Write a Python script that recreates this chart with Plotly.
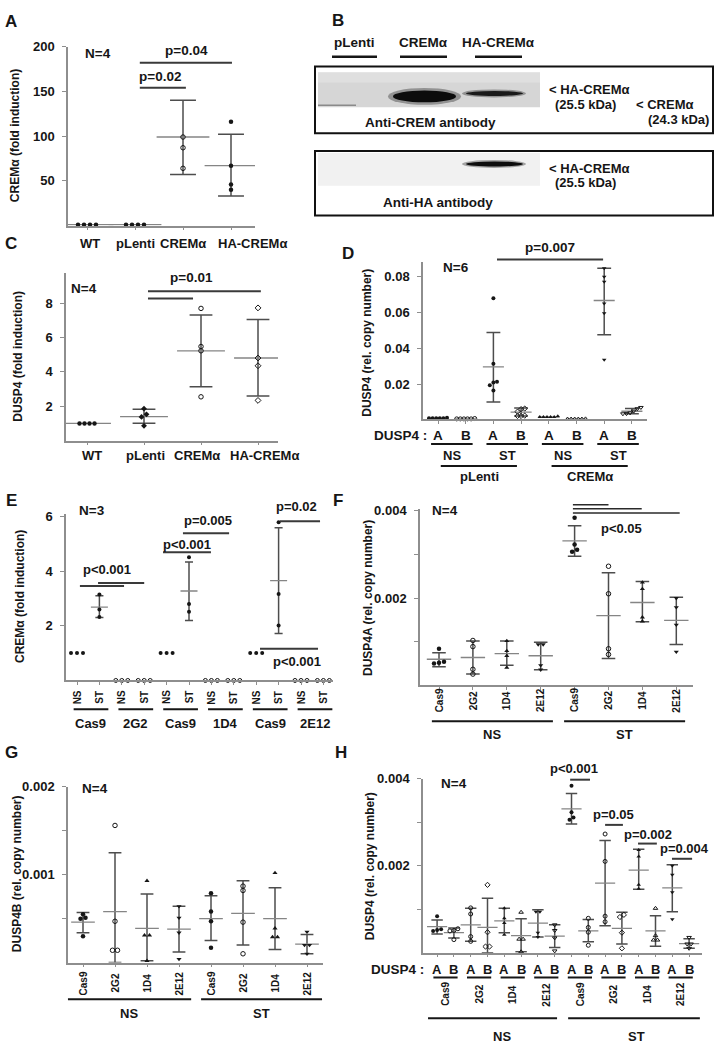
import plotly.graph_objects as go

W, H = 716, 1050
FONT = "Liberation Sans, Arial, Helvetica, sans-serif"
INK = "#161616"
AXC = "#8e8e8e"
ERRC = "#4d4d4d"
MEANC = "#858585"

# ======================= DATA =======================
# Panel A : CREMa fold induction
A_cats = ["WT", "pLenti", "CREMα", "HA-CREMα"]
A_pts = [[1, 1, 1, 1], [1, 1, 1, 1], [99, 87, 64], [116, 67, 46, 40]]
A_mean = [1, 1, 99, 67]
A_lo = [1, 1, 57, 33]
A_hi = [1, 1, 140, 102]
A_yticks = [50, 100, 150, 200]

# Panel C : DUSP4 fold induction
C_cats = ["WT", "pLenti", "CREMα", "HA-CREMα"]
C_pts = [[1, 1, 1, 1], [1.86, 1.53, 1.38, 0.86], [7.70, 5.48, 5.23, 2.55], [7.73, 4.81, 4.36, 2.34]]
C_mean = [1, 1.40, 5.23, 4.81]
C_lo = [1, 1.01, 3.13, 2.59]
C_hi = [1, 1.82, 7.31, 7.06]
C_yticks = [2, 4, 6, 8]

# Panel D : DUSP4 A/B copy number, pLenti vs CREMa
D_gene = ["A", "B", "A", "B", "A", "B", "A", "B"]
D_stim = ["NS", "ST", "NS", "ST"]
D_cells = ["pLenti", "CREMα"]
D_pts = [
    [0.0015, 0.0015, 0.0015, 0.0015, 0.0015, 0.0018],
    [0.0012, 0.0012, 0.0012, 0.0012, 0.0012, 0.0014],
    [0.0678, 0.0316, 0.0217, 0.0198, 0.0213, 0.0169],
    [0.0069, 0.0066, 0.0052, 0.0028, 0.0028, 0.0030],
    [0.0023, 0.0023, 0.0023, 0.0023, 0.0023, 0.0026],
    [0.0011, 0.0011, 0.0011, 0.0011, 0.0011, 0.0012],
    [0.0844, 0.0797, 0.0769, 0.0650, 0.0596, 0.0339],
    [0.0075, 0.0068, 0.0055, 0.0045, 0.0040, 0.0041],
]
D_mean = [0.0015, 0.0012, 0.0299, 0.0049, 0.0023, 0.0011, 0.0666, 0.0054]
D_lo = [0.0015, 0.0012, 0.0105, 0.0028, 0.0023, 0.0011, 0.0477, 0.0040]
D_hi = [0.0015, 0.0012, 0.0489, 0.0072, 0.0023, 0.0011, 0.0844, 0.0070]
D_yticks = [0.02, 0.04, 0.06, 0.08]

# Panel E : CREMa fold induction in knock-out clones
E_stim = ["NS", "ST", "NS", "ST", "NS", "ST", "NS", "ST", "NS", "ST", "NS", "ST"]
E_pairs = ["Cas9", "2G2", "Cas9", "1D4", "Cas9", "2E12"]
E_pts = [[1, 1, 1], [3.14, 2.59, 2.32], [0, 0, 0], [0, 0, 0],
         [1, 1, 1], [4.50, 2.80, 2.51], [0, 0, 0], [0, 0, 0],
         [1, 1, 1], [5.78, 3.16, 2.01], [0, 0, 0], [0, 0, 0]]
E_mean = [1, 2.68, 0, 0, 1, 3.27, 0, 0, 1, 3.65, 0, 0]
E_lo = [1, 2.30, 0, 0, 1, 2.19, 0, 0, 1, 1.72, 0, 0]
E_hi = [1, 3.10, 0, 0, 1, 4.33, 0, 0, 1, 5.58, 0, 0]
E_yticks = [2, 4, 6]

# Panel F : DUSP4A copy number
F_clones = ["Cas9", "2G2", "1D4", "2E12", "Cas9", "2G2", "1D4", "2E12"]
F_pts = [
    [0.00084, 0.00054, 0.00050, 0.00052],
    [0.00103, 0.00089, 0.00037, 0.00026],
    [0.00102, 0.00079, 0.00068, 0.00041],
    [0.00094, 0.00094, 0.00046, 0.00036],
    [0.00384, 0.00323, 0.00311, 0.00306],
    [0.00273, 0.00210, 0.00084, 0.00071],
    [0.00236, 0.00221, 0.00156, 0.00147],
    [0.00200, 0.00179, 0.00139, 0.00077],
]
F_mean = [0.00060, 0.00064, 0.00073, 0.00068, 0.00331, 0.00160, 0.00190, 0.00149]
F_lo = [0.00043, 0.00026, 0.00046, 0.00036, 0.00296, 0.00062, 0.00146, 0.00094]
F_hi = [0.00075, 0.00102, 0.00102, 0.00099, 0.00366, 0.00258, 0.00238, 0.00202]

# Panel G : DUSP4B copy number
G_pts = [
    [0.00055, 0.00051, 0.00050, 0.00030],
    [0.00156, 0.00047, 0.00014, 0.00014],
    [0.00093, 0.00031, 0.00031, 0.00002],
    [0.00064, 0.00051, 0.00034, 0.00004],
    [0.00079, 0.00058, 0.00047, 0.00017],
    [0.00087, 0.00082, 0.00046, 0.00010],
    [0.00102, 0.00039, 0.00029, 0.00029],
    [0.00035, 0.00020, 0.00020, 0.00010],
]
G_mean = [0.00046, 0.00058, 0.00039, 0.00038, 0.00050, 0.00056, 0.00050, 0.00021]
G_lo = [0.00034, 0.00000, 0.00002, 0.00012, 0.00025, 0.00020, 0.00015, 0.00010]
G_hi = [0.00057, 0.00125, 0.00078, 0.00064, 0.00076, 0.00093, 0.00085, 0.00032]

# Panel H : DUSP4 A (= panel F data) and B (= panel G data)
H_gene = ["A", "B"]

# ======================= LAYOUT GEOMETRY =======================
GEOM = {
    "A": dict(n=1, xpx=(68, 255), x0px=87, xstep=48, ypx=(40, 220), yr=(0, 200)),
    "C": dict(n=2, xpx=(66, 278), x0px=87, xstep=57, ypx=(268, 436.5), yr=(0, 9.75)),
    "D": dict(n=3, xpx=(423, 647), x0px=438, xstep=27.7, ypx=(257, 415), yr=(0.001, 0.0877)),
    "E": dict(n=4, xpx=(66, 333), x0px=77, xstep=22.4, ypx=(510, 678), yr=(0, 6.1)),
    "F": dict(n=5, xpx=(420, 693), x0px=439, xstep=33.9, ypx=(505, 683), yr=(0, 0.00405)),
    "G": dict(n=6, xpx=(68, 323), x0px=83, xstep=32, ypx=(785, 962), yr=(0, 0.002)),
    "H": dict(n=7, xpx=(423, 702), x0px=445.5, xstep=33.6, ypx=(777, 952), yr=(0, 0.004)),
}
for g in GEOM.values():
    g["xr"] = ((g["xpx"][0] - g["x0px"]) / g["xstep"], (g["xpx"][1] - g["x0px"]) / g["xstep"])

fig = go.Figure()
ann = []
shapes = []
layout_axes = {}


def X(p):
    return p / W


def Y(p):
    return 1 - p / H


def pxx(g, x):
    return g["x0px"] + x * g["xstep"]


def pxy(g, y):
    y0, y1 = g["ypx"]
    r0, r1 = g["yr"]
    return y1 - (y - r0) / (r1 - r0) * (y1 - y0)


def text(s, xp, yp, size=13, angle=0, xanchor="center", yanchor="middle", color=INK):
    ann.append(dict(text=s, x=X(xp), y=Y(yp), xref="paper", yref="paper", showarrow=False,
                    textangle=angle, xanchor=xanchor, yanchor=yanchor,
                    font=dict(family=FONT, size=size, color=color, weight="bold")))


def hline(x0p, x1p, yp, color=INK, width=2):
    shapes.append(dict(type="line", xref="paper", yref="paper", x0=X(x0p), x1=X(x1p),
                       y0=Y(yp), y1=Y(yp), line=dict(color=color, width=width)))


def dline(g, x0, x1, y, color="#3a3a3a", width=2):
    hline(pxx(g, x0), pxx(g, x1), pxy(g, y), color, width)


def dtext(g, s, x, y, size=13, **kw):
    text(s, pxx(g, x), pxy(g, y), size=size, **kw)


def ids(g):
    n = g["n"]
    return ("x" if n == 1 else "x%d" % n), ("y" if n == 1 else "y%d" % n)


def setup(g, ytv, ytt, xtv, tsize=13):
    xa, ya = ids(g)
    layout_axes["xaxis" + xa[1:]] = dict(
        domain=[g["xpx"][0] / W, g["xpx"][1] / W], range=list(g["xr"]), anchor=ya,
        showgrid=False, zeroline=False, showline=True, linecolor=AXC, linewidth=1.5,
        ticks="outside", ticklen=3, tickcolor=AXC, tickwidth=1, tickvals=xtv,
        showticklabels=False, fixedrange=True)
    layout_axes["yaxis" + ya[1:]] = dict(
        domain=[1 - g["ypx"][1] / H, 1 - g["ypx"][0] / H], range=list(g["yr"]), anchor=xa,
        showgrid=False, zeroline=False, showline=True, linecolor=AXC, linewidth=1.5,
        ticks="outside", ticklen=4, tickcolor=AXC, tickwidth=1, tickvals=ytv, ticktext=ytt,
        tickfont=dict(family=FONT, size=tsize, color=INK, weight="bold"),
        ticklabelstandoff=5, fixedrange=True)


def spread(vals, ppu, step_px, tol_px=3.5):
    order = sorted(range(len(vals)), key=lambda i: vals[i])
    offs = [0.0] * len(vals)
    clusters, cur = [], [order[0]]
    for i in order[1:]:
        if abs(vals[i] - vals[cur[-1]]) * ppu < tol_px:
            cur.append(i)
        else:
            clusters.append(cur)
            cur = [i]
    clusters.append(cur)
    for c in clusters:
        k = len(c)
        for j, i in enumerate(c):
            offs[i] = (j - (k - 1) / 2) * step_px
    return offs


def add_group(g, xc, vals, mean, lo, hi, sym, mean_hw, cap_hw, step_px=5.5, msize=4.5,
              show_mean=True):
    xa, ya = ids(g)
    ppu = (g["ypx"][1] - g["ypx"][0]) / (g["yr"][1] - g["yr"][0])
    if hi - lo > 1e-12:
        fig.add_trace(go.Scatter(
            x=[xc, xc, None, xc - cap_hw, xc + cap_hw, None, xc - cap_hw, xc + cap_hw],
            y=[lo, hi, None, lo, lo, None, hi, hi], mode="lines", xaxis=xa, yaxis=ya,
            line=dict(color=ERRC, width=1.5), hoverinfo="skip", showlegend=False))
    if show_mean:
        fig.add_trace(go.Scatter(
            x=[xc - mean_hw, xc + mean_hw], y=[mean, mean], mode="lines", xaxis=xa, yaxis=ya,
            line=dict(color=MEANC, width=1.3), hoverinfo="skip", showlegend=False))
    offs = spread(vals, ppu, step_px)
    xs = [xc + o / g["xstep"] for o in offs]
    is_open = "open" in sym
    fig.add_trace(go.Scatter(
        x=xs, y=vals, mode="markers", xaxis=xa, yaxis=ya, cliponaxis=False,
        marker=dict(symbol=sym, size=msize, color=INK,
                    line=dict(width=1 if is_open else 0, color=INK)),
        hoverinfo="skip", showlegend=False))


# ======================= PANEL A =======================
g = GEOM["A"]
setup(g, A_yticks, [str(v) for v in A_yticks], list(range(len(A_cats))))
A_sym = ["circle", "circle", "circle-open", "circle"]
for i in range(len(A_cats)):
    add_group(g, i, A_pts[i], A_mean[i], A_lo[i], A_hi[i], A_sym[i], 0.55, 0.27, step_px=6)
for s, xu in zip(A_cats, [0.06, 1.0, 2.0, 3.44]):
    text(s, pxx(g, xu), 238, 13)
for x0, x1, y in [(1.1, 2.06, 154), (1.1, 3.02, 182)]:
    dline(g, x0, x1, y)
for s, x, y in [("p=0.02", 1.52, 167), ("p=0.04", 2.08, 196)]:
    dtext(g, s, x, y, 13.5)
dtext(g, "N=4", 0.22, 192, 13.5)
text("CREMα (fold induction)", 15, 130, 12, angle=-90)
text("A", 11, 15, 17)

# ======================= PANEL B (western blot) =======================
for s, xc, x0, x1 in [("pLenti", 354, 332, 377), ("CREMα", 423, 400, 447), ("HA-CREMα", 498, 475, 522)]:
    text(s, xc, 36, 13.5)
    hline(x0, x1, 50, INK, 2.5)
for (y0, y1) in [(60, 127), (145, 210)]:
    shapes.append(dict(type="rect", xref="paper", yref="paper", x0=X(315), x1=X(713),
                       y0=Y(y0), y1=Y(y1), line=dict(color="#111", width=2)))
shapes.append(dict(type="rect", xref="paper", yref="paper", x0=X(318), x1=X(540), y0=Y(66), y1=Y(101),
                   fillcolor="#d6d6d6", line=dict(width=0), layer="below"))
shapes.append(dict(type="rect", xref="paper", yref="paper", x0=X(318), x1=X(540), y0=Y(66), y1=Y(76),
                   fillcolor="#dfdfdf", line=dict(width=0), layer="below"))
shapes.append(dict(type="rect", xref="paper", yref="paper", x0=X(318), x1=X(540), y0=Y(147), y1=Y(180),
                   fillcolor="#f1f1f1", line=dict(width=0), layer="below"))
hline(318, 356, 99, "#8a8a8a", 1.5)
for (x0, x1, y0, y1, col) in [
    (388, 461, 81.5, 98.5, "rgba(20,20,20,0.35)"),
    (393, 456, 84, 96, "#0c0c0c"),
    (462, 526, 83, 91, "rgba(20,20,20,0.35)"),
    (466, 523, 84.5, 89.5, "#1a1a1a"),
    (462, 526, 154, 162, "rgba(20,20,20,0.35)"),
    (466, 523, 155.5, 160.5, "#0e0e0e"),
]:
    shapes.append(dict(type="circle", xref="paper", yref="paper", x0=X(x0), x1=X(x1), y0=Y(y0), y1=Y(y1),
                       fillcolor=col, line=dict(width=0)))
text("< HA-CREMα", 547, 83, 13, xanchor="left")
text("(25.5 kDa)", 553, 98, 13, xanchor="left")
text("< CREMα", 634, 98, 13, xanchor="left")
text("(24.3 kDa)", 711, 113, 13, xanchor="right")
text("Anti-CREM antibody", 430, 116, 13.5)
text("< HA-CREMα", 547, 163, 13, xanchor="left")
text("(25.5 kDa)", 553, 177, 13, xanchor="left")
text("Anti-HA antibody", 438, 197, 13.5)
text("B", 338, 14, 17)

# ======================= PANEL C =======================
g = GEOM["C"]
setup(g, C_yticks, [str(v) for v in C_yticks], list(range(len(C_cats))))
C_sym = ["circle", "diamond", "circle-open", "diamond-open"]
for i in range(len(C_cats)):
    add_group(g, i, C_pts[i], C_mean[i], C_lo[i], C_hi[i], C_sym[i], 0.42, 0.2, step_px=5)
for s, xu in zip(C_cats, [0.09, 1.02, 1.93, 3.12]):
    text(s, pxx(g, xu), 452, 13)
for x0, x1, y in [(1.07, 1.86, 8.28), (1.07, 3.05, 8.70)]:
    dline(g, x0, x1, y)
dtext(g, "p=0.01", 1.84, 9.51, 13.5)
dtext(g, "N=4", -0.05, 8.87, 13.5)
text("DUSP4 (fold induction)", 18, 352, 12, angle=-90)
text("C", 11, 238, 17)

# ======================= PANEL D =======================
g = GEOM["D"]
setup(g, D_yticks, ["%.2f" % v for v in D_yticks], list(range(len(D_gene))))
D_sym = ["circle", "circle-open", "circle", "diamond-open",
         "triangle-up", "triangle-up-open", "triangle-down", "triangle-down-open"]
for i in range(len(D_gene)):
    add_group(g, i, D_pts[i], D_mean[i], D_lo[i], D_hi[i], D_sym[i], 0.38, 0.25, step_px=3.6, msize=4)
text("DUSP4 :", 400, 431, 13.5)
for i, s in enumerate(D_gene):
    text(s, pxx(g, i), 431, 13.5)
for k, s in enumerate(D_stim):
    hline(pxx(g, 2 * k - 0.25), pxx(g, 2 * k + 1.25), 440, INK, 2)
    text(s, pxx(g, 2 * k + 0.5), 452, 13)
for k, s in enumerate(D_cells):
    hline(pxx(g, 4 * k + 0.1), pxx(g, 4 * k + 2.85), 462, INK, 2)
    text(s, pxx(g, 4 * k + 1.5), 473, 13)
dline(g, 2.13, 5.96, 0.0893)
dtext(g, "p=0.007", 4.04, 0.0959, 13.5)
dtext(g, "N=6", 0.65, 0.085, 13.5)
text("DUSP4 (rel. copy number)", 367, 338, 12, angle=-90)
text("D", 348, 248, 17)

# ======================= PANEL E =======================
g = GEOM["E"]
setup(g, E_yticks, [str(v) for v in E_yticks], list(range(len(E_stim))))
for i in range(len(E_stim)):
    sym = "circle" if E_pairs[i // 2] == "Cas9" else "circle-open"
    has_var = E_hi[i] - E_lo[i] > 1e-9
    add_group(g, i, E_pts[i], E_mean[i], E_lo[i], E_hi[i], sym, 0.38, 0.18, step_px=6,
              msize=4, show_mean=has_var)
for i, s in enumerate(E_stim):
    text(s, pxx(g, i), 695, 10, angle=-90)
for k, s in enumerate(E_pairs):
    hline(pxx(g, 2 * k - 0.15), pxx(g, 2 * k + 1.4), 707, INK, 2)
    text(s, pxx(g, 2 * k + 0.62), 721, 13)
for x0, x1, y in [(0.13, 2.1, 3.45), (0.94, 3.0, 3.56), (3.84, 5.98, 4.69),
                  (4.73, 6.79, 5.38), (9.06, 10.85, 5.82), (8.17, 10.76, 1.16)]:
    dline(g, x0, x1, y)
for s, x, y in [("p<0.001", 1.34, 4.07), ("p<0.001", 4.9, 4.98), ("p=0.005", 5.85, 5.85),
                ("p=0.02", 9.8, 6.36), ("p<0.001", 9.84, 0.69)]:
    dtext(g, s, x, y, 13)
dtext(g, "N=3", 0.67, 6.22, 13.5)
text("CREMα (fold induction)", 20, 594, 12, angle=-90)
text("E", 11, 497, 17)

# ======================= PANEL F =======================
CL_SYM = {"Cas9": "circle", "2G2": "circle-open", "1D4": "triangle-up", "2E12": "triangle-down"}
CL_SYM_OPEN = {"Cas9": "circle-open", "2G2": "diamond-open", "1D4": "triangle-up-open",
               "2E12": "triangle-down-open"}
g = GEOM["F"]
setup(g, [0.001, 0.002, 0.003, 0.004], ["", "0.002", "", "0.004"], list(range(len(F_clones))))
for i, c in enumerate(F_clones):
    add_group(g, i, F_pts[i], F_mean[i], F_lo[i], F_hi[i], CL_SYM[c], 0.36, 0.2, step_px=5)
for i, s in enumerate(F_clones):
    text(s, pxx(g, i), 698, 10, angle=-90)
for (x0, x1, xc, s) in [(-0.21, 3.36, 1.575, "NS"), (3.69, 7.26, 5.475, "ST")]:
    hline(pxx(g, x0), pxx(g, x1), 719, INK, 2)
    text(s, pxx(g, xc), 732, 13)
for x1, y in [(5.0, 0.00414), (5.98, 0.00405), (7.1, 0.00395)]:
    dline(g, 3.95, x1, y, "#2a2a2a", 1.5)
dtext(g, "p<0.05", 5.37, 0.00359, 13)
dtext(g, "N=4", 0.18, 0.00400, 13.5)
text("DUSP4A (rel. copy number)", 368, 595, 12, angle=-90)
text("F", 338, 497, 17)

# ======================= PANEL G =======================
g = GEOM["G"]
setup(g, [0.0005, 0.001, 0.0015, 0.002], ["", "0.001", "", "0.002"], list(range(len(F_clones))))
for i, c in enumerate(F_clones):
    add_group(g, i, G_pts[i], G_mean[i], G_lo[i], G_hi[i], CL_SYM[c], 0.37, 0.2, step_px=5)
for i, s in enumerate(F_clones):
    text(s, pxx(g, i), 983, 10, angle=-90)
for (x0, x1, xc, s) in [(-0.47, 3.38, 1.45, "NS"), (3.69, 7.47, 5.58, "ST")]:
    hline(pxx(g, x0), pxx(g, x1), 999, INK, 2)
    text(s, pxx(g, xc), 1013, 13)
dtext(g, "N=4", 0.375, 0.00198, 13.5)
text("DUSP4B (rel. copy number)", 17, 873, 12, angle=-90)
text("G", 11, 750, 17)

# ======================= PANEL H =======================
g = GEOM["H"]
hx = []
for i in range(len(F_clones)):
    hx += [i - 0.25, i + 0.25]
setup(g, [0.001, 0.002, 0.003, 0.004], ["", "0.002", "", "0.004"], hx)
for i, c in enumerate(F_clones):
    add_group(g, i - 0.25, F_pts[i], F_mean[i], F_lo[i], F_hi[i], CL_SYM[c], 0.3, 0.17,
              step_px=4, msize=4)
    add_group(g, i + 0.25, G_pts[i], G_mean[i], G_lo[i], G_hi[i], CL_SYM_OPEN[c], 0.3, 0.17,
              step_px=4, msize=4)
text("DUSP4 :", 397, 969, 13.5)
for i, c in enumerate(F_clones):
    text(H_gene[0], pxx(g, i - 0.25), 969, 13)
    text(H_gene[1], pxx(g, i + 0.25), 969, 13)
    hline(pxx(g, i - 0.36), pxx(g, i + 0.36), 977, INK, 2)
    text(c, pxx(g, i), 994, 10, angle=-90)
for (x0, x1, xc, s) in [(-0.52, 3.32, 1.68, "NS"), (3.65, 7.57, 5.67, "ST")]:
    hline(pxx(g, x0), pxx(g, x1), 1018, INK, 2)
    text(s, pxx(g, xc), 1036, 13)
for x0, x1, y in [(3.71, 4.30, 0.00398), (4.75, 5.28, 0.00294), (5.73, 6.29, 0.00251), (6.74, 7.34, 0.00216)]:
    dline(g, x0, x1, y)
for s, x, y in [("p<0.001", 3.82, 0.00423), ("p=0.05", 5.01, 0.00317),
                ("p=0.002", 6.03, 0.00271)]:
    dtext(g, s, x, y, 13)
text("p=0.004", 711, pxy(g, 0.00239), 13, xanchor="right")
dtext(g, "N=4", 0.25, 0.0039, 13.5)
text("DUSP4 (rel. copy number)", 370, 865, 12, angle=-90)
text("H", 341, 750, 17)

fig.update_layout(
    width=W, height=H, margin=dict(l=0, r=0, t=0, b=0),
    paper_bgcolor="white", plot_bgcolor="white", showlegend=False,
    font=dict(family=FONT, color=INK, weight="bold"),
    annotations=ann, shapes=shapes, **layout_axes)

fig.write_html(
    "out.html",
    config={"displayModeBar": False},
    post_script="document.documentElement.style.margin='0';document.body.style.margin='0';"
                "document.body.style.padding='0';document.body.style.overflow='hidden';",
)
